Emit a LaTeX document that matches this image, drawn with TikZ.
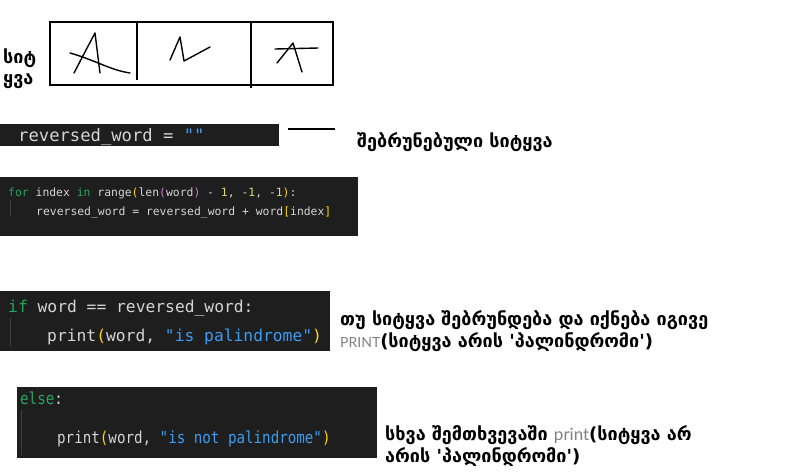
\documentclass[tikz,border=0pt]{standalone}
\usepackage{fontspec}
\newfontfamily\geo{DejaVu Sans}
\newfontfamily\codef{DejaVu Sans Mono}
\newfontfamily\codec{DejaVu Sans Mono}[FakeStretch=0.86]
\newfontfamily\thinf{Lato}
\definecolor{codebg}{HTML}{1E1E1E}
\definecolor{codetxt}{HTML}{D4D4D4}
\definecolor{kw}{HTML}{25A55F}
\definecolor{yel}{HTML}{FFD700}
\definecolor{mag}{HTML}{DA70D6}
\definecolor{num}{HTML}{DCD37A}
\definecolor{strc}{HTML}{3B9CF0}
\definecolor{guide}{HTML}{404040}
\definecolor{thing}{HTML}{808080}
\tikzset{
  codebox/.style={fill=codebg, draw=none},
  codeline/.style={anchor=base west, inner sep=0pt, text=codetxt},
  geotext/.style={anchor=base west, inner sep=0pt, font=\geo\bfseries\fontsize{18}{20}\selectfont, text=black},
  hand/.style={line width=1.4pt, line cap=round, line join=round},
  frame/.style={line width=1.6pt},
  guideline/.style={draw=guide, line width=0.8pt}
}
\begin{document}
\begin{tikzpicture}[x=1pt,y=-1pt]
\useasboundingbox (0,0) rectangle (795,475);
\fill[white] (0,0) rectangle (795,475);
% word box
\draw[frame] (50,22) rectangle (333,85);
\draw[frame] (137,22) -- (137,80);
\draw[frame] (251,22) -- (251,88);
% handwritten letters
\draw[hand] (74,73) -- (86,50) -- (95,33) -- (100,73);
\draw[hand] (70,53) .. controls (95,60) and (110,70) .. (130,73);
\draw[hand] (170,60) -- (180,37) -- (184,61) -- (210,47);
\draw[hand] (275,49) -- (318,48);
\draw[hand] (277,63) -- (293,43) -- (302,72);
\node[geotext] (lbl1) at (3,63) {სიტ};
\node[geotext] (lbl2) at (3,84) {ყვა};
% code box 1
\fill[codebox] (0,124) rectangle (279,146);
\node[codeline, font=\codef\fontsize{17.2}{19}\selectfont] (c1) at (18,141) {reversed\_word = \textcolor{strc}{""}};
\coordinate (d1) at (288,129);
\coordinate (d2) at (335,129);
\draw[line width=1.5pt] (d1) -- (d2);
\node[geotext] (t1) at (357,147) {შებრუნებული სიტყვა};
% code box 2
\fill[codebox] (0,177) rectangle (358,236);
\draw[guideline] (10,200) -- (10,217);
\node[codeline, font=\codef\fontsize{11.4}{13}\selectfont] (c2a) at (8,196) {\textcolor{kw}{for} index \textcolor{kw}{in} range\textcolor{yel}{(}len\textcolor{mag}{(}word\textcolor{mag}{)} - \textcolor{num}{1}, -\textcolor{num}{1}, -\textcolor{num}{1}\textcolor{yel}{)}:};
\node[codeline, font=\codef\fontsize{11.4}{13}\selectfont] (c2b) at (36,215) {reversed\_word = reversed\_word + word\textcolor{yel}{[}index\textcolor{yel}{]}};
% code box 3
\fill[codebox] (0,291) rectangle (330,351);
\draw[guideline] (10,318) -- (10,346);
\node[codeline, font=\codef\fontsize{16.3}{18}\selectfont] (c3a) at (8,312) {\textcolor{kw}{if} word == reversed\_word:};
\node[codeline, font=\codef\fontsize{16.3}{18}\selectfont] (c3b) at (47,341) {print\textcolor{yel}{(}word, \textcolor{strc}{"is palindrome"}\textcolor{yel}{)}};
\node[geotext] (t2) at (340,325) {თუ სიტყვა შებრუნდება და იქნება იგივე};
\node[geotext] (t3) at (340,347) {{\thinf\mdseries\color{thing}\fontsize{14}{16}\selectfont PRINT}(სიტყვა არის 'პალინდრომი')};
% code box 4
\fill[codebox] (17,387) rectangle (377,458);
\draw[guideline] (21,410) -- (21,455);
\node[codeline, font=\codec\fontsize{16.5}{18}\selectfont] (c4a) at (20,404) {\textcolor{kw}{else}:};
\node[codeline, font=\codec\fontsize{16.5}{18}\selectfont] (c4b) at (57,443) {print\textcolor{yel}{(}word, \textcolor{strc}{"is not palindrome"}\textcolor{yel}{)}};
\node[geotext] (t4) at (385,440) {სხვა შემთხვევაში {\thinf\mdseries\color{thing}\fontsize{17}{19}\selectfont print}(სიტყვა არ};
\node[geotext] (t5) at (385,462) {არის 'პალინდრომი')};
\end{tikzpicture}
\end{document}
